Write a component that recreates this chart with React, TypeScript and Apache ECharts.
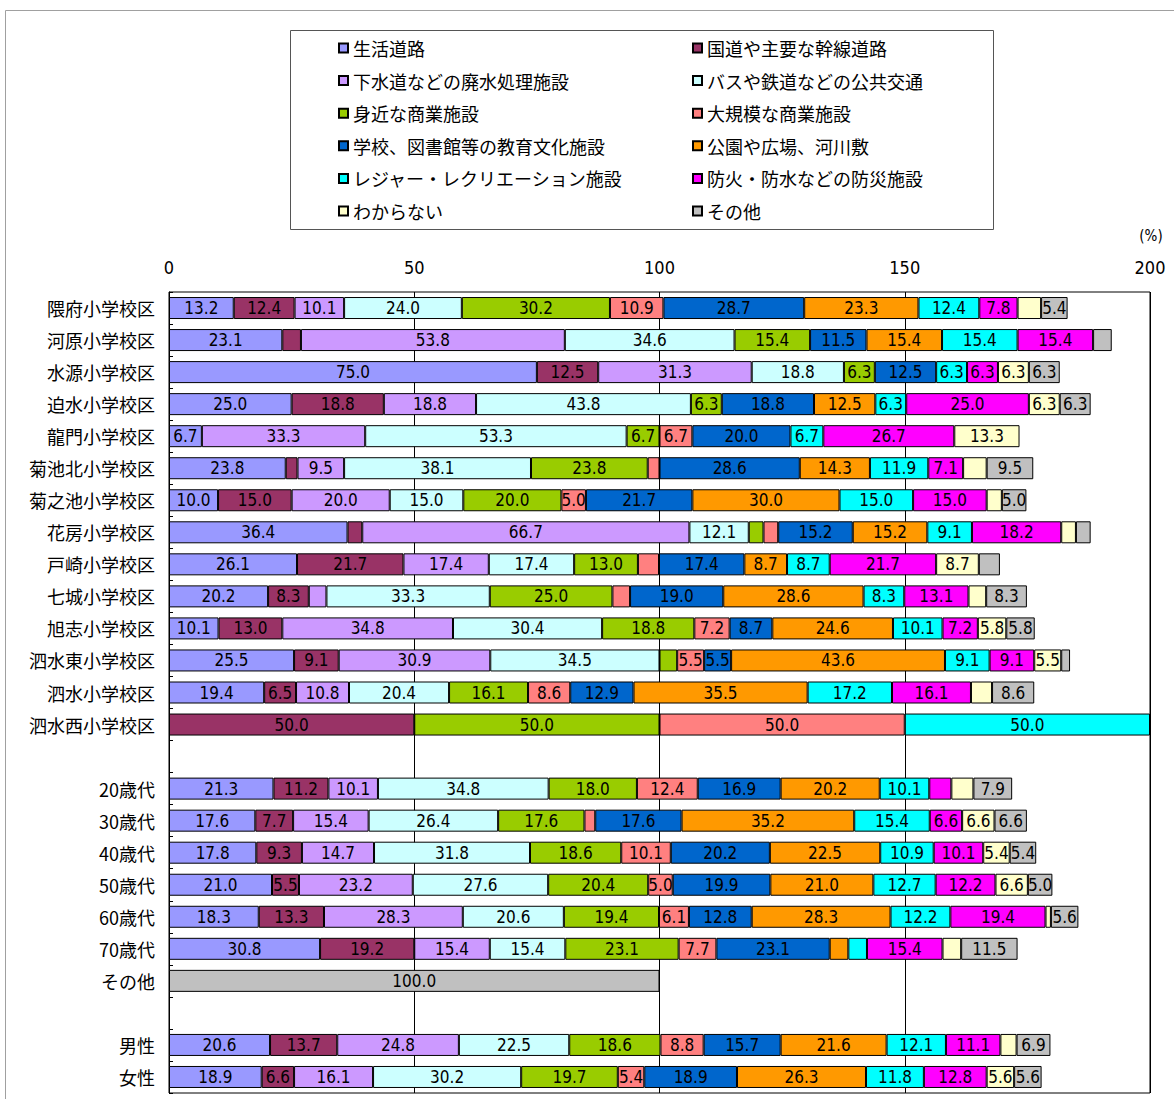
import React, { useEffect, useRef } from "react";
import * as echarts from "echarts";

// Row groups: school districts, age brackets, gender
const schools = [
  "隈府小学校区", "河原小学校区", "水源小学校区", "迫水小学校区", "龍門小学校区",
  "菊池北小学校区", "菊之池小学校区", "花房小学校区", "戸崎小学校区", "七城小学校区",
  "旭志小学校区", "泗水東小学校区", "泗水小学校区", "泗水西小学校区",
];
const ages = ["20歳代", "30歳代", "40歳代", "50歳代", "60歳代", "70歳代", "その他"];
const genders = ["男性", "女性"];

const seriesNames = [
  "生活道路", "国道や主要な幹線道路", "下水道などの廃水処理施設", "バスや鉄道などの公共交通",
  "身近な商業施設", "大規模な商業施設", "学校、図書館等の教育文化施設", "公園や広場、河川敷",
  "レジャー・レクリエーション施設", "防火・防水などの防災施設", "わからない", "その他",
];
const colors = [
  "#9999FF", "#993366", "#CC99FF", "#CCFFFF", "#99CC00", "#FF8080",
  "#0066CC", "#FF9900", "#00FFFF", "#FF00FF", "#FFFFCC", "#C0C0C0",
];

// Percentages per row: 14 schools | 7 age brackets | 2 genders
const roadLocal = [13.2, 23.1, 75.0, 25.0, 6.7, 23.8, 10.0, 36.4, 26.1, 20.2, 10.1, 25.5, 19.4, 0, 21.3, 17.6, 17.8, 21.0, 18.3, 30.8, 0, 20.6, 18.9];
const roadMain = [12.4, 3.8, 12.5, 18.8, 0, 2.4, 15.0, 3.0, 21.7, 8.3, 13.0, 9.1, 6.5, 50.0, 11.2, 7.7, 9.3, 5.5, 13.3, 19.2, 0, 13.7, 6.6];
const sewer = [10.1, 53.8, 31.3, 18.8, 33.3, 9.5, 20.0, 66.7, 17.4, 3.6, 34.8, 30.9, 10.8, 0, 10.1, 15.4, 14.7, 23.2, 28.3, 15.4, 0, 24.8, 16.1];
const transit = [24.0, 34.6, 18.8, 43.8, 53.3, 38.1, 15.0, 12.1, 17.4, 33.3, 30.4, 34.5, 20.4, 0, 34.8, 26.4, 31.8, 27.6, 20.6, 15.4, 0, 22.5, 30.2];
const shopsNear = [30.2, 15.4, 6.3, 6.3, 6.7, 23.8, 20.0, 3.0, 13.0, 25.0, 18.8, 3.6, 16.1, 50.0, 18.0, 17.6, 18.6, 20.4, 19.4, 23.1, 0, 18.6, 19.7];
const shopsLarge = [10.9, 0, 0, 0, 6.7, 2.4, 5.0, 3.0, 4.3, 3.6, 7.2, 5.5, 8.6, 50.0, 12.4, 2.2, 10.1, 5.0, 6.1, 7.7, 0, 8.8, 5.4];
const education = [28.7, 11.5, 12.5, 18.8, 20.0, 28.6, 21.7, 15.2, 17.4, 19.0, 8.7, 5.5, 12.9, 0, 16.9, 17.6, 20.2, 19.9, 12.8, 23.1, 0, 15.7, 18.9];
const parks = [23.3, 15.4, 0, 12.5, 0, 14.3, 30.0, 15.2, 8.7, 28.6, 24.6, 43.6, 35.5, 0, 20.2, 35.2, 22.5, 21.0, 28.3, 3.8, 0, 21.6, 26.3];
const leisure = [12.4, 15.4, 6.3, 6.3, 6.7, 11.9, 15.0, 9.1, 8.7, 8.3, 10.1, 9.1, 17.2, 50.0, 10.1, 15.4, 10.9, 12.7, 12.2, 3.8, 0, 12.1, 11.8];
const disaster = [7.8, 15.4, 6.3, 25.0, 26.7, 7.1, 15.0, 18.2, 21.7, 13.1, 7.2, 9.1, 16.1, 0, 4.5, 6.6, 10.1, 12.2, 19.4, 15.4, 0, 11.1, 12.8];
const unknown = [4.8, 0, 6.3, 6.3, 13.3, 4.8, 3.1, 3.0, 8.7, 3.6, 5.8, 5.5, 4.3, 0, 4.5, 6.6, 5.4, 6.6, 1.1, 3.8, 0, 3.3, 5.6];
const other = [5.4, 3.8, 6.3, 6.3, 0, 9.5, 5.0, 3.0, 4.3, 8.3, 5.8, 1.8, 8.6, 0, 7.9, 6.6, 5.4, 5.0, 5.6, 11.5, 100.0, 6.9, 5.6];

const seriesValues = [roadLocal, roadMain, sewer, transit, shopsNear, shopsLarge, education, parks, leisure, disaster, unknown, other];

const xMin = 0;
const xMax = 200;
const xStep = 50;

const NARROW = "'Liberation Sans Narrow', 'Arial Narrow', 'DejaVu Sans Condensed', sans-serif";
const JP = "'Noto Sans CJK JP', 'Noto Sans', sans-serif";

// Insert an empty row between groups
const nSchools = schools.length;
const nAges = ages.length;
const categories = [...schools, " ", ...ages, "  ", ...genders];
const withGaps = (vals: number[]) => {
  const v = vals.map((x) => (x > 0 ? x : null));
  return [...v.slice(0, nSchools), null, ...v.slice(nSchools, nSchools + nAges), null, ...v.slice(nSchools + nAges)];
};

export default function App() {
  const ref = useRef<HTMLDivElement>(null);

  useEffect(() => {
    if (!ref.current) return;
    const chart = echarts.init(ref.current, undefined, { renderer: "svg" });

    const series = seriesNames.map((name, i) => ({
      name,
      type: "bar",
      stack: "total",
      barWidth: 22,
      data: withGaps(seriesValues[i]),
      itemStyle: { color: colors[i], borderColor: "#000", borderWidth: 1 },
      label: {
        show: true,
        position: "inside",
        color: "#000",
        fontSize: 17,
        fontFamily: NARROW,
        formatter: (p: any) => (p.value != null && p.value >= 5 ? Number(p.value).toFixed(1) : ""),
      },
    }));

    const legendCommon = {
      orient: "vertical",
      top: 34,
      itemWidth: 9,
      itemHeight: 9,
      itemGap: 14.6,
      icon: "rect",
      textStyle: { fontSize: 18, lineHeight: 18, color: "#000", fontFamily: JP },
    };

    chart.setOption({
      animation: false,
      backgroundColor: "#fff",
      legend: [
        { ...legendCommon, left: 333, data: seriesNames.filter((_, i) => i % 2 === 0) },
        { ...legendCommon, left: 687, data: seriesNames.filter((_, i) => i % 2 === 1) },
      ],
      graphic: [
        {
          type: "rect",
          shape: { x: 5.5, y: 10.5, width: 1300, height: 1300 },
          style: { fill: "none", stroke: "#a0a0a0", lineWidth: 1 },
          silent: true,
        },
        {
          type: "rect",
          shape: { x: 290.5, y: 30.5, width: 703, height: 199 },
          style: { fill: "none", stroke: "#555", lineWidth: 1 },
          silent: true,
        },
        {
          type: "text",
          x: 1151,
          y: 236,
          style: { text: "(%)", fontSize: 15, fill: "#000", fontFamily: NARROW, align: "center", verticalAlign: "middle" },
        },
      ],
      grid: {
        left: 169,
        right: 24,
        top: 292,
        bottom: 6,
        show: true,
        borderColor: "#000",
        borderWidth: 1,
      },
      xAxis: {
        type: "value",
        position: "top",
        min: xMin,
        max: xMax,
        interval: xStep,
        axisLine: { show: false },
        axisTick: { show: false },
        splitLine: { show: true, lineStyle: { color: "#000", width: 1 } },
        axisLabel: { color: "#000", fontSize: 18, fontFamily: NARROW, margin: 16 },
      },
      yAxis: {
        type: "category",
        inverse: true,
        data: categories,
        axisLine: { show: true, lineStyle: { color: "#000" } },
        axisTick: { show: true, inside: true, length: 4, lineStyle: { color: "#000" } },
        axisLabel: { color: "#000", fontSize: 18, fontFamily: JP, margin: 14 },
      },
      series,
    });

    return () => chart.dispose();
  }, []);

  return (
    <div
      ref={ref}
      style={{ position: "fixed", left: 0, top: 0, width: 1174, height: 1099, background: "#fff" }}
    />
  );
}
